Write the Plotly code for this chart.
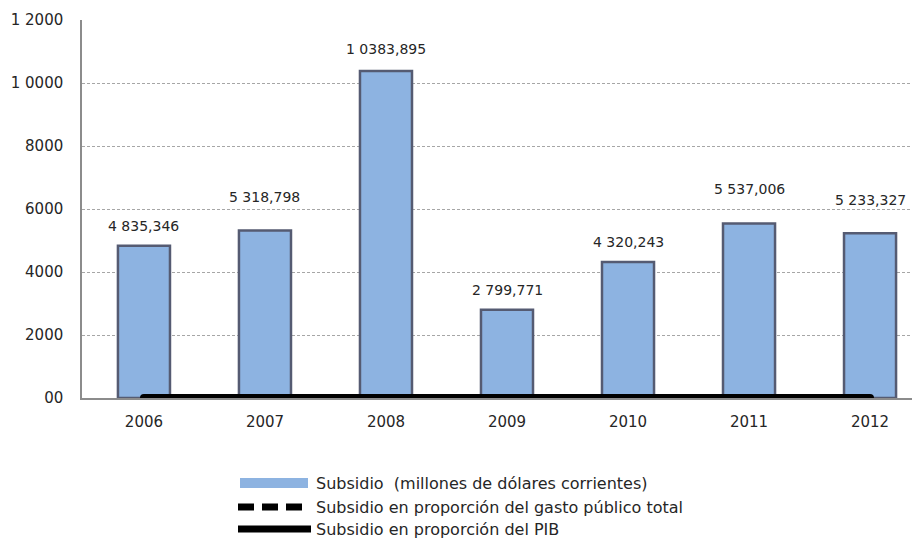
import plotly.graph_objects as go

# ---- data ----
years = ["2006", "2007", "2008", "2009", "2010", "2011", "2012"]
subsidio = [4835.346, 5318.798, 10383.895, 2799.771, 4320.243, 5537.006, 5233.327]
subsidio_labels = ["4 835,346", "5 318,798", "1 0383,895", "2 799,771", "4 320,243", "5 537,006", "5 233,327"]
prop_gasto = [0, 0, 0, 0, 0, 0, 0]
prop_pib = [0, 0, 0, 0, 0, 0, 0]
y_tickvals = [0, 2000, 4000, 6000, 8000, 10000, 12000]
y_ticktext = ["00", "2000", "4000", "6000", "8000", "1 0000", "1 2000"]
legend_names = ["Subsidio\u00a0\u00a0(millones de dólares corrientes)",
                "Subsidio en proporción del gasto público total",
                "Subsidio en proporción del PIB"]

# ---- style ----
FONT = "DejaVu Sans, Liberation Sans, Arial, sans-serif"
TXT = "#262626"
BAR_FILL = "#8db3e1"
BAR_LINE = "#555b72"
label_shift = [20, 33, 22, 20, 20, 35, 33]  # px offset of value labels above bar tops

fig = go.Figure()
fig.add_trace(go.Bar(
    x=years, y=subsidio, width=0.43,
    marker=dict(color=BAR_FILL, line=dict(color=BAR_LINE, width=2.5)),
    showlegend=False, hoverinfo="skip",
))
fig.add_trace(go.Scatter(
    x=years, y=prop_gasto, mode="lines",
    line=dict(color="black", width=8, dash="15px,8px"),
    showlegend=False, hoverinfo="skip",
))
fig.add_trace(go.Scatter(
    x=years, y=prop_pib, mode="lines+markers",
    line=dict(color="black", width=8),
    marker=dict(color="black", size=8),
    showlegend=False, hoverinfo="skip",
))

# value labels (category axis -> serial index)
for i, (v, lab, sh) in enumerate(zip(subsidio, subsidio_labels, label_shift)):
    fig.add_annotation(x=i, y=v, text=lab, showarrow=False, yanchor="middle",
                       yshift=sh, font=dict(family=FONT, size=14, color=TXT))

# ---- manual legend (page pixel -> paper coords) ----
PL, PW = 82.0, 846.0   # plot left / width on page
PB, PH = 398.0, 378.0  # plot bottom / height on page
def px(s):
    return (s - PL) / PW
def py(s):
    return (PB - s) / PH

rows = [483, 507, 529]
fig.add_shape(type="rect", xref="paper", yref="paper",
              x0=px(240), x1=px(308), y0=py(488), y1=py(478),
              fillcolor=BAR_FILL, line=dict(width=0))
fig.add_shape(type="line", xref="paper", yref="paper",
              x0=px(238), x1=px(302), y0=py(rows[1]), y1=py(rows[1]),
              line=dict(color="black", width=7, dash="16px,8px"))
fig.add_shape(type="line", xref="paper", yref="paper",
              x0=px(238), x1=px(311), y0=py(rows[2]), y1=py(rows[2]),
              line=dict(color="black", width=7))
for r, name in zip(rows, legend_names):
    fig.add_annotation(xref="paper", yref="paper", x=px(313.5), y=py(r),
                       text=name, showarrow=False, xanchor="left", yanchor="middle",
                       font=dict(family=FONT, size=16, color=TXT))

fig.update_layout(
    width=920, height=540,
    margin=dict(l=74, r=0, t=12, b=150),
    paper_bgcolor="white", plot_bgcolor="white",
    font=dict(family=FONT, size=15, color=TXT),
)
fig.update_xaxes(
    type="category", range=[-0.512, 6.479],
    showline=True, linecolor="#8c8c8c", linewidth=1.5,
    showgrid=False, ticks="", ticklabelstandoff=9,
    tickfont=dict(family=FONT, size=15, color=TXT),
)
fig.update_yaxes(
    range=[0, 12000], tickvals=y_tickvals, ticktext=y_ticktext,
    showline=True, linecolor="#8c8c8c", linewidth=1.5,
    showgrid=True, gridcolor="#a6a6a6", gridwidth=1, griddash="3px,2px",
    zeroline=False, ticks="", ticklabelstandoff=14,
    tickfont=dict(family=FONT, size=15, color=TXT),
)

fig.write_html("out.html")
